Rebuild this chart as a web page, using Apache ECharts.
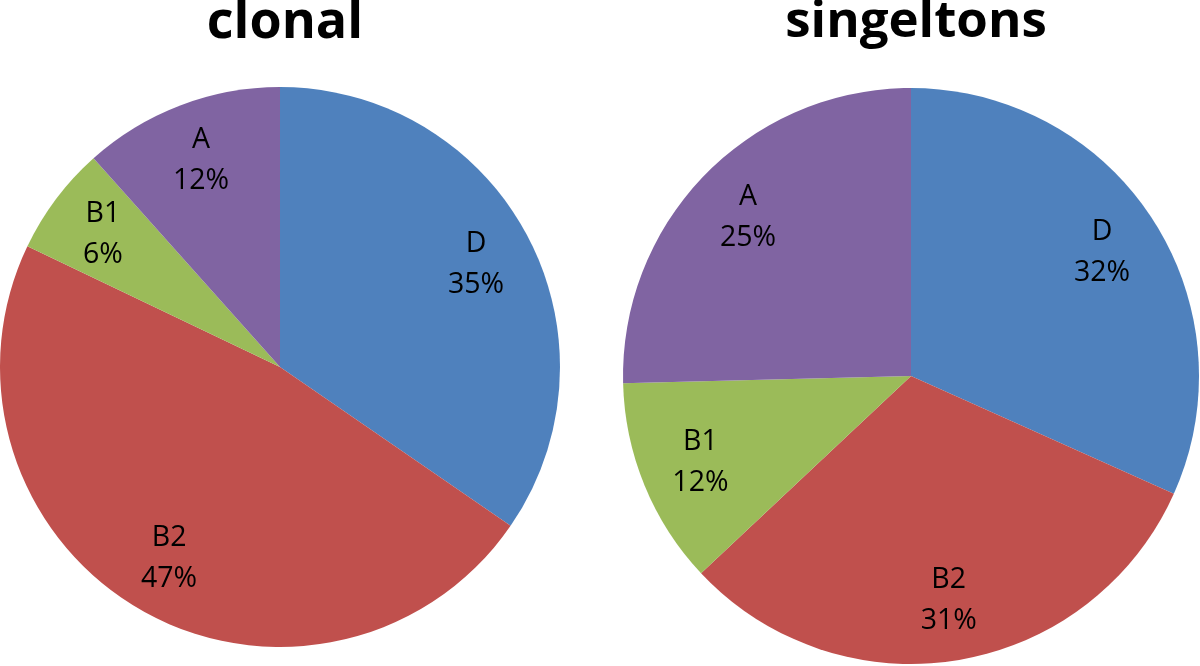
<!DOCTYPE html>
<html><head><meta charset="utf-8">
<script src="https://cdn.jsdelivr.net/npm/echarts@6/dist/echarts.min.js"></script>
<style>html,body{margin:0;padding:0;background:#fff}#c{width:1200px;height:666px}</style>
</head><body><div id="c"></div>
<script>
const categories = ['D', 'B2', 'B1', 'A'];
const clonalValues = [34.6, 47.5, 6.3, 11.6];
const singletonValues = [31.7, 31.3, 11.6, 25.4];
const titles = ['clonal', 'singeltons'];
const colors = ['#4F81BD', '#C0504D', '#9BBB59', '#8064A2'];

const chart = echarts.init(document.getElementById('c'));
const font = '"Open Sans", "Noto Sans", sans-serif';

function makeData(vals) {
  return categories.map((n, i) => ({ name: n, value: vals[i] }));
}
function pies(vals, cx, cy, r) {
  return [
    {
      type: 'pie', center: [cx, cy], radius: [0, r], startAngle: 90, clockwise: true,
      percentPrecision: 0, silent: true, animation: false,
      label: { show: false }, labelLine: { show: false },
      itemStyle: { borderWidth: 0 },
      data: makeData(vals).map((d, i) => ({ ...d, itemStyle: { color: colors[i] } }))
    },
    {
      type: 'pie', center: [cx, cy], radius: [r * 0.56, r], startAngle: 90, clockwise: true,
      percentPrecision: 0, silent: true, animation: false,
      itemStyle: { color: 'rgba(0,0,0,0)', borderWidth: 0 },
      label: {
        show: true, position: 'inside', formatter: '{b}\n{d}%',
        color: '#000', fontFamily: font, fontSize: 28.5, lineHeight: 41
      },
      labelLine: { show: false },
      data: makeData(vals)
    }
  ];
}

chart.setOption({
  backgroundColor: '#fff',
  title: [
    { text: titles[0], left: 280, top: -8, textAlign: 'center',
      textStyle: { fontFamily: font, fontWeight: 'bold', fontSize: 52, color: '#000' } },
    { text: titles[1], left: 911, top: -8, textAlign: 'center',
      textStyle: { fontFamily: font, fontWeight: 'bold', fontSize: 51, color: '#000' } }
  ],
  series: [...pies(clonalValues, 280, 367, 280), ...pies(singletonValues, 911, 376, 288)]
});
</script></body></html>
